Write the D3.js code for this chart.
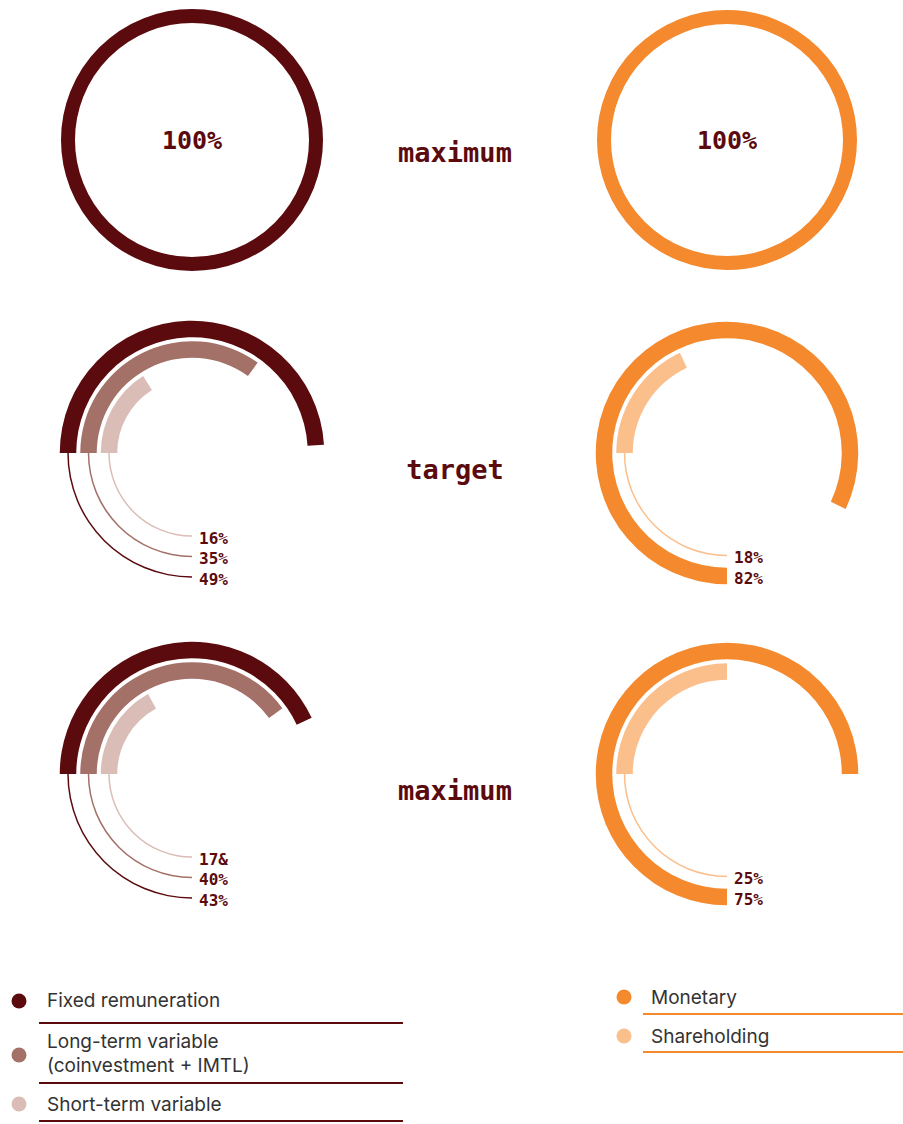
<!DOCTYPE html>
<html lang="en"><head>
<meta charset="UTF-8">
<title>Remuneration mix</title>
<script src="https://cdn.jsdelivr.net/npm/d3@7/dist/d3.min.js"></script>
<style>
  body { margin: 0; background: #fff; }
  svg { display: block; }
</style>
</head>
<body>
<script>

var width = 903;
var height = 1124;

// scenario names shown between the two columns
var scenarios = ["maximum", "target", "maximum"];

// left column: fixed / long-term variable / short-term variable (%)
var fixedPct = [100, 49, 43];
var longPct = [null, 35, 40];
var shortPct = [null, 16, 17];
var fixedLabels = ["100%", "49%", "43%"];
var longLabels = ["", "35%", "40%"];
var shortLabels = ["", "16%", "17&"];

// right column: monetary / shareholding (%)
var monetaryPct = [100, 82, 75];
var sharePct = [null, 18, 25];
var monetaryLabels = ["100%", "82%", "75%"];
var shareLabels = ["", "18%", "25%"];

var leftLegend = [["Fixed remuneration"], ["Long-term variable", "(coinvestment + IMTL)"], ["Short-term variable"]];
var rightLegend = ["Monetary", "Shareholding"];

var cFixed = "#5b0a0e", cLong = "#a47169", cShort = "#dabdb6";
var cMon = "#f4892d", cShare = "#fbbf8c";
var textDark = "#5b0a0e";

// layout
var rowY = [140, 453, 774];
var leftX = 192, rightX = 727;
var band = 16.5;
var pitch = 20.5;
var monoFont = "'DejaVu Sans Mono', monospace";

var angle = d3.scaleLinear().domain([0, 100]).range([0, 2 * Math.PI]);

var svg = d3.select("body").append("svg")
            .attr("width", width)
            .attr("height", height);

function thick(r, a0, a1) {
  return d3.arc().innerRadius(r - band / 2).outerRadius(r + band / 2)
           .startAngle(a0).endAngle(a1)();
}
function thin(r, a0, a1) {
  return d3.arc().innerRadius(r - 0.75).outerRadius(r + 0.75)
           .startAngle(a0).endAngle(a1)();
}

// one ring that starts at 9 o'clock with a thin leader down to 6 o'clock
function leaderRing(g, r, pct, color, label) {
  var start = -Math.PI / 2;
  g.append("path").attr("d", thick(r, start, start + angle(pct))).attr("fill", color);
  g.append("path").attr("d", thin(r, -Math.PI, start)).attr("fill", color);
  g.append("text")
   .attr("x", 7).attr("y", r + 2)
   .attr("dominant-baseline", "central")
   .attr("font-family", monoFont).attr("font-weight", "bold")
   .attr("font-size", 16).attr("fill", textDark)
   .text(label);
}

function fullRing(g, r, color, label) {
  g.append("circle").attr("r", r).attr("fill", "none")
   .attr("stroke", color).attr("stroke-width", 14);
  g.append("text")
   .attr("text-anchor", "middle").attr("dominant-baseline", "central")
   .attr("font-family", monoFont).attr("font-weight", "bold")
   .attr("font-size", 25).attr("fill", textDark)
   .text(label);
}

scenarios.forEach(function(name, i) {
  var gl = svg.append("g").attr("transform", "translate(" + leftX + "," + rowY[i] + ")");
  var gr = svg.append("g").attr("transform", "translate(" + rightX + "," + rowY[i] + ")");

  if (fixedPct[i] === 100) {
    fullRing(gl, 124, cFixed, fixedLabels[i]);
  } else {
    leaderRing(gl, 124, fixedPct[i], cFixed, fixedLabels[i]);
    leaderRing(gl, 124 - pitch, longPct[i], cLong, longLabels[i]);
    leaderRing(gl, 124 - 2 * pitch, shortPct[i], cShort, shortLabels[i]);
  }

  if (monetaryPct[i] === 100) {
    fullRing(gr, 123, cMon, monetaryLabels[i]);
  } else {
    // monetary starts at 6 o'clock, thick all the way
    gr.append("path").attr("d", thick(123, Math.PI, Math.PI + angle(monetaryPct[i]))).attr("fill", cMon);
    gr.append("text")
      .attr("x", 7).attr("y", 123 + 2)
      .attr("dominant-baseline", "central")
      .attr("font-family", monoFont).attr("font-weight", "bold")
      .attr("font-size", 16).attr("fill", textDark)
      .text(monetaryLabels[i]);
    leaderRing(gr, 123 - pitch, sharePct[i], cShare, shareLabels[i]);
  }

  svg.append("text")
     .attr("x", 455).attr("y", rowY[i] + 12 + (i === 0 ? 0 : 4))
     .attr("text-anchor", "middle").attr("dominant-baseline", "central")
     .attr("font-family", monoFont).attr("font-weight", "bold")
     .attr("font-size", 27).attr("fill", textDark)
     .text(name);
});

// legends
var legFont = "Inter, 'Noto Sans', sans-serif";
var legSize = 19;
var leftCols = [cFixed, cLong, cShort];
var leftDotY = [1001, 1055, 1104];
var leftTextY = [1007, 1048, 1111];
var leftLineY = [1023, 1083, 1121];

leftLegend.forEach(function(lines, i) {
  svg.append("circle").attr("cx", 19).attr("cy", leftDotY[i]).attr("r", 7.5).attr("fill", leftCols[i]);
  lines.forEach(function(t, j) {
    svg.append("text").attr("x", 47).attr("y", leftTextY[i] + j * 24)
       .attr("font-family", legFont).attr("font-size", legSize).attr("fill", "#333")
       .text(t);
  });
  svg.append("line").attr("x1", 39).attr("x2", 403)
     .attr("y1", leftLineY[i]).attr("y2", leftLineY[i])
     .attr("stroke", cFixed).attr("stroke-width", 2);
});

var rightCols = [cMon, cShare];
var rightDotY = [997, 1036];
var rightLineY = [1014, 1052];
rightLegend.forEach(function(t, i) {
  svg.append("circle").attr("cx", 624).attr("cy", rightDotY[i]).attr("r", 7.5).attr("fill", rightCols[i]);
  svg.append("text").attr("x", 651).attr("y", rightDotY[i] + 7)
     .attr("font-family", legFont).attr("font-size", legSize).attr("fill", "#333")
     .text(t);
  svg.append("line").attr("x1", 643).attr("x2", 903)
     .attr("y1", rightLineY[i]).attr("y2", rightLineY[i])
     .attr("stroke", cMon).attr("stroke-width", 2);
});

</script>
</body></html>
